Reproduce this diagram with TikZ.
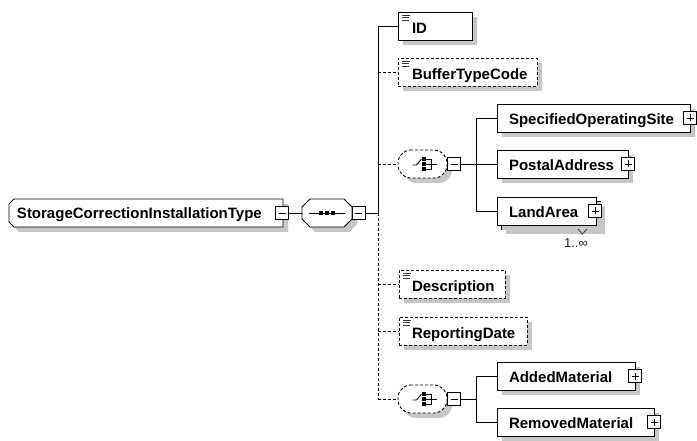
\documentclass[tikz,border=0pt]{standalone}
\usepackage{fontspec}
\setmainfont{Liberation Sans}
\usetikzlibrary{calc,shadows,backgrounds}
\definecolor{shadowc}{RGB}{198,198,198}
\definecolor{multc}{RGB}{30,30,50}
\newcommand\lbl[3]{\makebox[#1pt][l]{\hspace{#2pt}#3}}
\newcommand\octall[2]{($(#1.north west)+(#2,0)$) -- ($(#1.north east)+(-#2,0)$) -- ($(#1.north east)+(0,#2)$) -- ($(#1.south east)+(0,-#2)$) -- ($(#1.south east)+(-#2,0)$) -- ($(#1.south west)+(#2,0)$) -- ($(#1.south west)+(0,-#2)$) -- ($(#1.north west)+(0,#2)$) -- cycle}
\newcommand\octleft[2]{($(#1.north west)+(#2,0)$) -- (#1.north east) -- (#1.south east) -- ($(#1.south west)+(#2,0)$) -- ($(#1.south west)+(0,-#2)$) -- ($(#1.north west)+(0,#2)$) -- cycle}
\begin{document}
\begin{tikzpicture}[x=1pt,y=-1pt,
  every node/.style={inner sep=0pt, outer sep=0pt},
  lw/.style={line width=0.9pt},
  dsh/.style={line width=0.9pt, dash pattern=on 3pt off 2pt},
  txt/.style={font=\fontsize{15}{18}\selectfont\bfseries},
  elembox/.style={draw, fill=white, line width=0.9pt, anchor=north west, minimum height=28pt,
     text height=13.7pt, text depth=0pt, txt,
     drop shadow={shadow xshift=5pt, shadow yshift=-5pt, fill=shadowc, opacity=1}},
  iconbox/.style={elembox, text height=15.7pt},
  optbox/.style={iconbox, dash pattern=on 3pt off 2pt},
  compo/.style={anchor=north west, minimum height=28pt},
  minusbox/.style={draw, fill=white, line width=0.9pt, minimum size=13pt,
     path picture={\draw[line width=0.9pt] ([xshift=3pt]path picture bounding box.west) -- ([xshift=-3pt]path picture bounding box.east);}},
  plusbox/.style={draw, fill=white, line width=0.9pt, minimum size=13pt,
     path picture={\draw[line width=0.9pt] ([xshift=3pt]path picture bounding box.west) -- ([xshift=-3pt]path picture bounding box.east);
                   \draw[line width=0.9pt] ([yshift=3pt]path picture bounding box.south) -- ([yshift=-3pt]path picture bounding box.north);}},
  docicon/.style={line width=0.75pt, black!80}
]
\useasboundingbox (0,0) rectangle (697,441);

% ---------- root ----------
\node[compo, text height=11pt, text depth=0pt, txt] (root) at (9,199) {\lbl{274}{8}{StorageCorrectionInstallationType}};
\begin{scope}[on background layer]
  \fill[white] (0,0) rectangle (697,441);
  \fill[shadowc, transform canvas={shift={(5pt,-5pt)}}] \octleft{root}{5};
  \draw[lw, fill=white] \octleft{root}{5};
\end{scope}
\node[minusbox] (rm) at ($(root.east)+(-1,0)$) {};

% ---------- sequence ----------
\node[compo, minimum width=50pt] (seq) at (302,199) {};
\fill[shadowc, transform canvas={shift={(5pt,-5pt)}}] \octall{seq}{8};
\draw[lw, fill=white] \octall{seq}{8};
\draw[lw] ($(seq.center)+(-18,0)$) -- ($(seq.center)+(18,0)$);
\foreach \dx in {-6,0,6} \fill ($(seq.center)+(\dx-2,-2)$) rectangle +(4,4);
\node[minusbox] (sm) at ($(seq.east)+(6.5,0)$) {};

\draw[lw] (rm.east) -- (seq.west);
\coordinate (trunk) at (378,213);
\coordinate (tbot) at (378,399);

% ---------- children of sequence ----------
\node[iconbox] (id) at (398,12) {\lbl{74}{14}{ID}};
\node[optbox] (btc) at (398,58) {\lbl{139}{14}{BufferTypeCode}};

\node[compo, minimum width=49pt] (ch1) at (398,150) {};
\node[optbox] (desc) at (399,270) {\lbl{106}{13}{Description}};
\node[optbox] (rep) at (399,317) {\lbl{128}{13}{ReportingDate}};
\node[compo, minimum width=49pt] (ch2) at (398,385) {};

\foreach \n in {ch1,ch2}{
  \fill[shadowc, rounded corners=4pt, transform canvas={shift={(5pt,-5pt)}}] \octall{\n}{8};
  \draw[dsh, fill=white, rounded corners=4pt] \octall{\n}{8};
  \draw[lw] ($(\n.center)+(-10,1)$) -- ($(\n.center)+(-6,1)$) -- ($(\n.center)+(-1,-5)$);
  \foreach \dy in {-5,0,5} \fill ($(\n.center)+(-0.5,\dy-1.8)$) rectangle +(3.6,3.6);
  \draw[lw] ($(\n.center)+(3,-5)$) -- ($(\n.center)+(9,-5)$) -- ($(\n.center)+(9,5)$) -- ($(\n.center)+(3,5)$);
  \draw[lw] ($(\n.center)+(3,0)$) -- ($(\n.center)+(14,0)$);
}
\node[minusbox] (c1m) at ($(ch1.east)+(7,0)$) {};
\node[minusbox] (c2m) at ($(ch2.east)+(7,0)$) {};

\foreach \n in {id,btc,desc,rep}{
  \draw[docicon] ($(\n.north west)+(4,3)$) -- +(8,0);
  \draw[docicon] ($(\n.north west)+(4,5.5)$) -- +(7,0);
  \draw[docicon] ($(\n.north west)+(4,8)$) -- +(7,0);
}

% trunk connectors
\draw[lw] (sm.east) -- (trunk);
\draw[lw] (trunk) |- (id.west);
\draw[dsh] (trunk) -- (tbot);
\draw[dsh] (btc.west -| trunk) -- (btc.west);
\draw[dsh] (ch1.west -| trunk) -- (ch1.west);
\draw[dsh] (desc.west -| trunk) -- (desc.west);
\draw[dsh] (rep.west -| trunk) -- (rep.west);
\draw[dsh] (ch2.west -| trunk) -- (ch2.west);

% ---------- choice 1 ----------
\node[elembox] (sos) at (497,104) {\lbl{193}{12}{SpecifiedOperatingSite}};
\node[elembox] (post) at (497,150) {\lbl{131}{12}{PostalAddress}};
\node[elembox] (landb) at (501,201) {\lbl{99}{12}{}};
\node[elembox, drop shadow={opacity=0}] (land) at (497,197) {\lbl{99}{12}{LandArea}};
\node[plusbox] (sosp) at (sos.east) {};
\node[plusbox] (postp) at (post.east) {};
\node[plusbox] (landp) at ($(land.east)+(-1,0)$) {};
\draw[line width=0.8pt, black!80] ($(landb.south east)+(-22,0)$) -- ($(landb.south east)+(-17.5,5)$) -- ($(landb.south east)+(-13,0)$);
\node[font=\fontsize{13}{15}\selectfont, text=multc] (mult) at (576,243) {1..∞};

\coordinate (j1) at (476,164);
\draw[lw] (c1m.east) -- (j1);
\draw[lw] (j1) |- (sos.west);
\draw[lw] (j1) |- (land.west);
\draw[lw] (j1) -- (post.west);

% ---------- choice 2 ----------
\node[elembox] (add) at (497,362) {\lbl{138}{12}{AddedMaterial}};
\node[elembox] (rem) at (497,408) {\lbl{157}{12}{RemovedMaterial}};
\node[plusbox] (addp) at (add.east) {};
\node[plusbox] (remp) at (rem.east) {};
\coordinate (j2) at (476,399);
\draw[lw] (c2m.east) -- (j2);
\draw[lw] (j2) |- (add.west);
\draw[lw] (j2) |- (rem.west);
\end{tikzpicture}
\end{document}
